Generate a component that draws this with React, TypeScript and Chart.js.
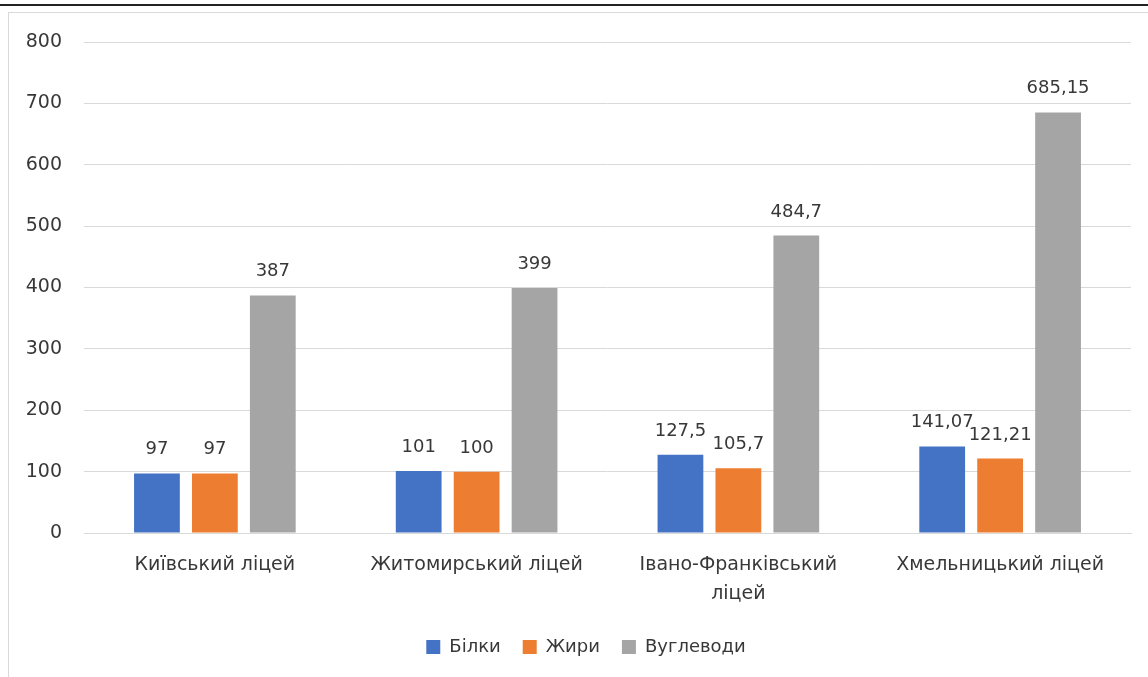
import React, { useEffect, useRef } from "react";
import { Chart, registerables } from "chart.js";

Chart.register(...registerables);

const categories: (string | string[])[] = [
  "Київський ліцей",
  "Житомирський ліцей",
  ["Івано-Франківський", "ліцей"],
  "Хмельницький ліцей",
];
const proteins = [97, 101, 127.5, 141.07];
const fats = [97, 100, 105.7, 121.21];
const carbs = [387, 399, 484.7, 685.15];
const seriesNames = ["Білки", "Жири", "Вуглеводи"];
const seriesColors = ["#4472C4", "#ED7D31", "#A5A5A5"];
const yTicks = [0, 100, 200, 300, 400, 500, 600, 700, 800];

const FONT = "'DejaVu Sans', sans-serif";
const TEXT = "#383838";

const fmt = (v: number) => String(v).replace(".", ",");

const labelPlugin = {
  id: "valueLabels",
  afterDatasetsDraw(chart: any) {
    const ctx = chart.ctx;
    ctx.save();
    ctx.font = `18px ${FONT}`;
    ctx.fillStyle = TEXT;
    ctx.textAlign = "center";
    ctx.textBaseline = "alphabetic";
    chart.data.datasets.forEach((ds: any, i: number) => {
      const meta = chart.getDatasetMeta(i);
      meta.data.forEach((bar: any, j: number) => {
        ctx.fillText(fmt(ds.data[j]), bar.x, bar.y - 19);
      });
    });
    ctx.restore();
  },
};

const legendShift = {
  id: "legendShift",
  afterLayout(chart: any) {
    const lg = chart.legend;
    if (!lg) return;
    lg.left += 16;
    lg.right += 16;
    lg.top -= 2;
    lg.bottom -= 2;
  },
};

export default function App() {
  const ref = useRef<HTMLCanvasElement>(null);
  useEffect(() => {
    if (!ref.current) return;
    const chart = new Chart(ref.current, {
      type: "bar",
      data: {
        labels: categories,
        datasets: [proteins, fats, carbs].map((d, i) => ({
          label: seriesNames[i],
          data: d,
          backgroundColor: seriesColors[i],
          categoryPercentage: 0.664,
          barPercentage: 0.79,
        })),
      },
      options: {
        animation: false,
        responsive: false,
        devicePixelRatio: 1,
        layout: { padding: { top: 29, right: 17, bottom: 9, left: 0 } },
        plugins: {
          tooltip: { enabled: false },
          legend: {
            position: "bottom",
            labels: {
              font: { family: FONT, size: 18 },
              color: TEXT,
              boxWidth: 14,
              boxHeight: 14,
              padding: 22,
            },
          },
        },
        scales: {
          x: {
            grid: { display: false },
            border: { color: "#D9D9D9", width: 1 },
            ticks: {
              font: { family: FONT, size: 19, lineHeight: 1.5 },
              color: TEXT,
              maxRotation: 0,
              autoSkip: false,
              padding: 10,
            },
          },
          y: {
            min: 0,
            max: 800,
            afterBuildTicks: (s: any) => {
              s.ticks = yTicks.map((v) => ({ value: v }));
            },
            afterFit: (s: any) => {
              s.width = 75;
            },
            grid: { color: "#D9D9D9", drawTicks: true, tickLength: 22, tickColor: "rgba(0,0,0,0)" },
            border: { display: false },
            ticks: {
              font: { family: FONT, size: 19 },
              color: TEXT,
              padding: 0,
            },
          },
        },
      },
      plugins: [labelPlugin, legendShift],
    });
    return () => chart.destroy();
  }, []);

  return (
    <div style={{ position: "fixed", left: 0, top: 0, width: 1148, height: 677, background: "#fff", overflow: "hidden" }}>
      <div style={{ position: "absolute", left: 0, top: 4, width: 1148, height: 2, background: "#222" }} />
      <div style={{ position: "absolute", left: 8, top: 12, width: 1150, height: 680, border: "1px solid #D9D9D9", boxSizing: "border-box" }} />
      <canvas ref={ref} width={1139} height={664} style={{ position: "absolute", left: 9, top: 13, width: 1139, height: 664 }} />
    </div>
  );
}
